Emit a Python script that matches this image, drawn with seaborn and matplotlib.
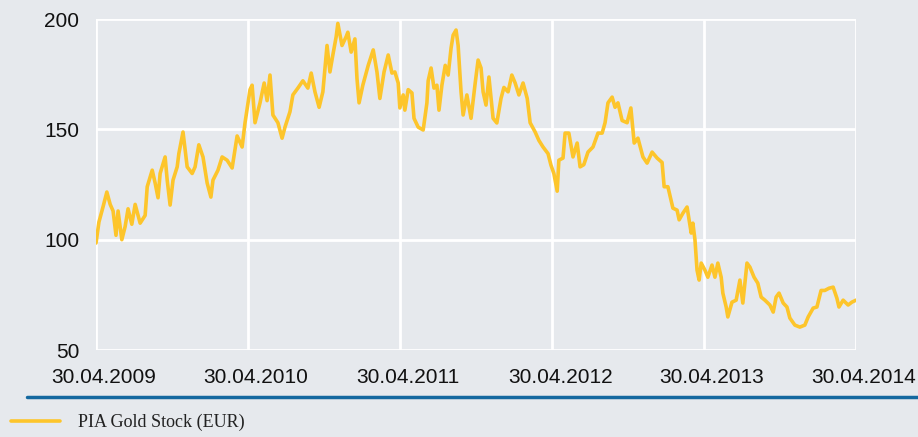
import pandas as pd
import seaborn as sns
import matplotlib.pyplot as plt
import matplotlib.dates as mdates
import matplotlib.transforms as mtransforms
from matplotlib.lines import Line2D

# days after 30.04.2009 and fund price (EUR)
days = [0, 7, 17, 26, 34, 41, 48, 53, 62, 70, 77, 86, 94, 106, 118, 123, 135, 142, 149, 154,
        166, 171, 178, 185, 195, 199, 209, 219, 231, 238, 247, 257, 267, 276, 281, 293, 303, 315,
        327, 339, 351, 358, 370, 375, 382, 394, 404, 411, 418, 425, 437, 447, 454, 466, 473, 485,
        497, 509, 517, 526, 536, 545, 555, 562, 569, 577, 581, 591, 601, 605, 613, 622, 627, 632,
        641, 654, 666, 675, 682, 692, 702, 711, 718, 726, 730, 738, 742, 750, 759, 764, 774, 786,
        795, 798, 805, 812, 819, 824, 831, 839, 846, 853, 858, 865, 870, 877, 882, 891, 901, 911,
        918, 925, 930, 937, 944, 954, 963, 973, 980, 990, 999, 1007, 1016, 1026, 1036, 1043, 1055,
        1064, 1074, 1086, 1093, 1100, 1108, 1112, 1122, 1127, 1136, 1146, 1156, 1163, 1172, 1182,
        1194, 1206, 1216, 1223, 1230, 1240, 1247, 1254, 1264, 1276, 1285, 1293, 1302, 1314, 1324,
        1336, 1348, 1360, 1365, 1374, 1386, 1396, 1401, 1410, 1420, 1430, 1434, 1439, 1444, 1449,
        1454, 1463, 1470, 1480, 1487, 1494, 1502, 1506, 1514, 1518, 1528, 1538, 1547, 1554, 1559,
        1564, 1571, 1581, 1590, 1598, 1607, 1619, 1627, 1634, 1641, 1651, 1660, 1667, 1679, 1691,
        1703, 1711, 1723, 1732, 1742, 1751, 1761, 1771, 1780, 1785, 1795, 1807, 1816, 1826]
price = [98.5, 108, 115, 121.6, 116, 113, 102, 113, 100, 106, 114, 107, 116, 107.5, 111, 124,
         131.5, 125.7, 119, 130, 137.5, 127, 115.7, 127, 133, 139, 148.8, 133, 130, 133, 143,
         137.5, 125.7, 119.3, 127, 131.5, 137.5, 136, 132.5, 147, 142, 153, 168, 170, 153, 162,
         171, 163, 174.6, 156.5, 153, 146, 151, 158, 165.6, 168.7, 172, 168.7, 175.5, 167, 160,
         167, 188, 176, 183.7, 192, 198, 188, 192, 194, 185, 191, 173, 162, 170, 179, 186, 176,
         164, 176, 183.7, 175.5, 176, 171, 159.7, 165.6, 158.7, 168, 166.5, 155, 151, 149.7, 162,
         172, 177.8, 168.7, 170, 158.7, 170, 179, 174.6, 186.8, 192.7, 195, 188, 167, 156.5,
         165.6, 155, 171, 181.4, 177.8, 167, 161, 173.7, 155, 152.9, 164, 169, 167, 174.6, 171,
         165.6, 171, 164, 153, 148.8, 145, 142, 139, 133.8, 130, 122, 136, 137, 148.3, 148.3,
         137.5, 143.8, 133, 134, 139.7, 142, 148.3, 148.3, 153, 162, 164.6, 160, 162, 154, 153,
         159.7, 143.8, 146, 137.5, 134.7, 139.7, 137, 135, 124, 124, 114.3, 113.4, 109, 112,
         114.8, 103, 107.5, 100, 86.2, 81.7, 89.4, 86.2, 83, 88.5, 83, 89.4, 83, 75.8, 69.5, 65,
         71.7, 72.6, 81.7, 71.3, 80.3, 89.4, 87.6, 83, 80.3, 74, 72.6, 70.4, 67.2, 74, 75.8,
         71.3, 69.5, 64.5, 61.3, 60.4, 61.3, 65, 69, 69.5, 77, 77, 78, 78.5, 73.5, 69.5, 72.6,
         70.4, 71.7, 72.6]
tick_dates = ["2009-04-30", "2010-04-30", "2011-04-30", "2012-04-30", "2013-04-30", "2014-04-30"]
y_ticks = [50, 100, 150, 200]
series_name = "PIA Gold Stock (EUR)"

start = pd.Timestamp(tick_dates[0])
df = pd.DataFrame({"date": start + pd.to_timedelta(days, unit="D"), "price": price})

bg = "#e6e9ed"
gold = "#fdc52b"
blue = "#14689f"

sns.set_style("white")
plt.rcParams["font.family"] = ["Liberation Sans", "DejaVu Sans"]

fig = plt.figure(figsize=(9.18, 4.37), dpi=100, facecolor=bg)
ax = fig.add_axes([0.1046, 0.199, 0.8279, 0.7575])
ax.set_facecolor(bg)

sns.lineplot(x="date", y="price", data=df, ax=ax, color=gold, linewidth=2.6, label=series_name)

ax.set_xlim(pd.Timestamp(tick_dates[0]), pd.Timestamp(tick_dates[-1]))
ax.set_ylim(50, 200)
ax.set_xticks(pd.to_datetime(tick_dates))
ax.xaxis.set_major_formatter(mdates.DateFormatter("%d.%m.%Y"))
ax.set_yticks(y_ticks)
ax.grid(True, color="white", linewidth=2)
ax.set_axisbelow(True)
for s in ax.spines.values():
    s.set_visible(False)
ax.tick_params(axis="x", length=8, width=2, color="white", labelsize=15, pad=5, labelcolor="#111111")
ax.tick_params(axis="y", length=0, labelsize=15, pad=12, labelcolor="#111111")
ax.set_xlabel("")
ax.set_ylabel("")

# date labels sit a little right of their ticks
shift = mtransforms.ScaledTranslation(8 / 100, 0, fig.dpi_scale_trans)
for lbl in ax.get_xticklabels():
    lbl.set_transform(lbl.get_transform() + shift)

# blue separator line above the legend
fig.add_artist(Line2D([0.029, 1.0], [0.0915, 0.0915], transform=fig.transFigure, color=blue, linewidth=2.5))

leg = ax.legend(loc="lower left", bbox_to_anchor=(0.0, -0.012), bbox_transform=fig.transFigure,
                frameon=False, handlelength=2.7, handletextpad=1.0, borderaxespad=0.0, borderpad=0.6,
                prop={"family": "Liberation Serif", "size": 13})
for t in leg.get_texts():
    t.set_color("#222222")

fig.savefig("out.png", dpi=100, facecolor=bg)
